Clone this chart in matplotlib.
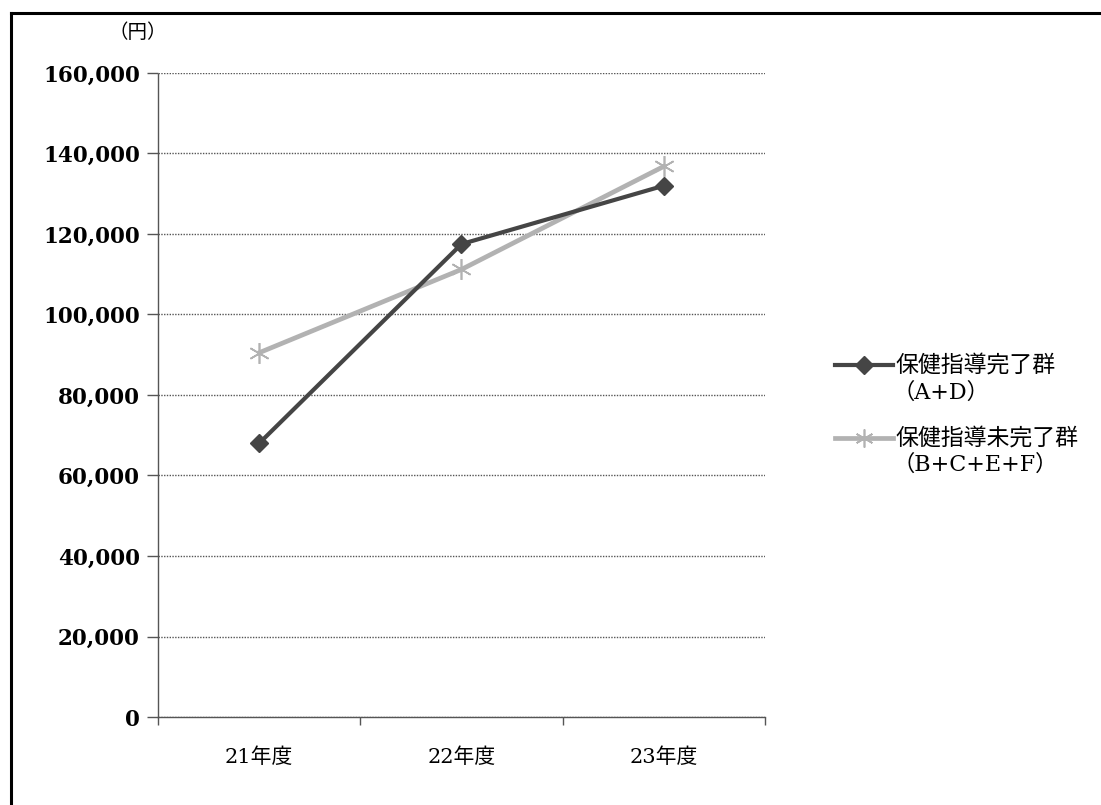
import matplotlib
matplotlib.use("Agg")
import matplotlib.pyplot as plt
from matplotlib.lines import Line2D
from matplotlib.ticker import FuncFormatter

# Data
years = ["21年度", "22年度", "23年度"]
completed = [68000, 117500, 132000]      # 保健指導完了群 (A+D)
incomplete = [90500, 111200, 136800]     # 保健指導未完了群 (B+C+E+F)
series_labels = ["保健指導完了群", "保健指導未完了群"]
series_sublabels = ["（A+D）", "（B+C+E+F）"]
y_ticks = list(range(0, 160001, 20000))

plt.rcParams['font.family'] = ['DejaVu Serif', 'Noto Sans CJK JP']

W, H = 1101, 805
fig = plt.figure(figsize=(W / 100, H / 100), dpi=100)
fig.patch.set_facecolor("white")

ax = fig.add_axes([158 / W, 1 - 717 / H, (765 - 158) / W, (717 - 73) / H])

dark = "#454545"
light = "#b2b2b2"
grid_c = "#555555"

x = list(range(len(years)))
ax.plot(x, completed, color=dark, lw=3.0, marker="D", markersize=9,
        markerfacecolor=dark, markeredgecolor=dark, zorder=4)
ax.plot(x, incomplete, color=light, lw=3.4, marker=(6, 2, 0), markersize=15,
        markeredgewidth=1.2, markeredgecolor=light, zorder=3)

ax.set_xlim(-0.5, 2.5)
ax.set_ylim(0, 160000)

# Gridlines and axes
ax.set_yticks(y_ticks)
ax.yaxis.set_major_formatter(FuncFormatter(lambda v, p: f"{int(v):,}"))
ax.grid(axis="y", color=grid_c, lw=1.0, linestyle=(0, (1, 1)))
ax.set_axisbelow(True)
for side in ("top", "right"):
    ax.spines[side].set_visible(False)
for side in ("left", "bottom"):
    ax.spines[side].set_color(grid_c)
    ax.spines[side].set_linestyle((0, (1, 1)))
    ax.spines[side].set_linewidth(1.0)

ax.tick_params(axis="y", length=8, width=1, color=grid_c, pad=5)
for lbl in ax.get_yticklabels():
    lbl.set_fontsize(15.5)
    lbl.set_fontweight("bold")

ax.set_xticks(x)
ax.set_xticklabels(years, fontsize=15)
ax.tick_params(axis="x", which="major", length=0, pad=22)
ax.set_xticks([-0.5, 0.5, 1.5, 2.5], minor=True)
ax.tick_params(axis="x", which="minor", length=6, width=1, color=grid_c,
               direction="out")

# Unit label
fig.text(138 / W, 1 - 33 / H, "（円）", ha="center", va="center", fontsize=14,
         family=["Noto Sans CJK JP"])

# Legend
leg_rows = [(365, 393), (438, 465)]
line_styles = [dict(color=dark, lw=3.0), dict(color=light, lw=3.4)]
marker_styles = [dict(color=dark, marker="D", markersize=9),
                 dict(color=light, marker=(6, 2, 0), markersize=13,
                      markeredgewidth=1.2)]
for (y1, y2), lab, sub, ls, ms in zip(leg_rows, series_labels, series_sublabels,
                                      line_styles, marker_styles):
    yy = 1 - y1 / H
    fig.add_artist(Line2D([835 / W, 893 / W], [yy, yy],
                          transform=fig.transFigure, **ls))
    fig.add_artist(Line2D([864 / W], [yy], transform=fig.transFigure,
                          linestyle="none", **ms))
    fig.text(895 / W, yy, lab, ha="left", va="center", fontsize=16.5,
             family=["Noto Sans CJK JP"])
    fig.text(893 / W, 1 - y2 / H, sub, ha="left", va="center", fontsize=16)

# Outer frame (top and left edges)
fig.add_artist(Line2D([11 / W, 1.0], [1 - 13 / H, 1 - 13 / H],
                      transform=fig.transFigure, color="black", lw=2.2))
fig.add_artist(Line2D([11 / W, 11 / W], [0.0, 1 - 13 / H],
                      transform=fig.transFigure, color="black", lw=2.2))

fig.savefig("out.png", dpi=100, facecolor="white")
